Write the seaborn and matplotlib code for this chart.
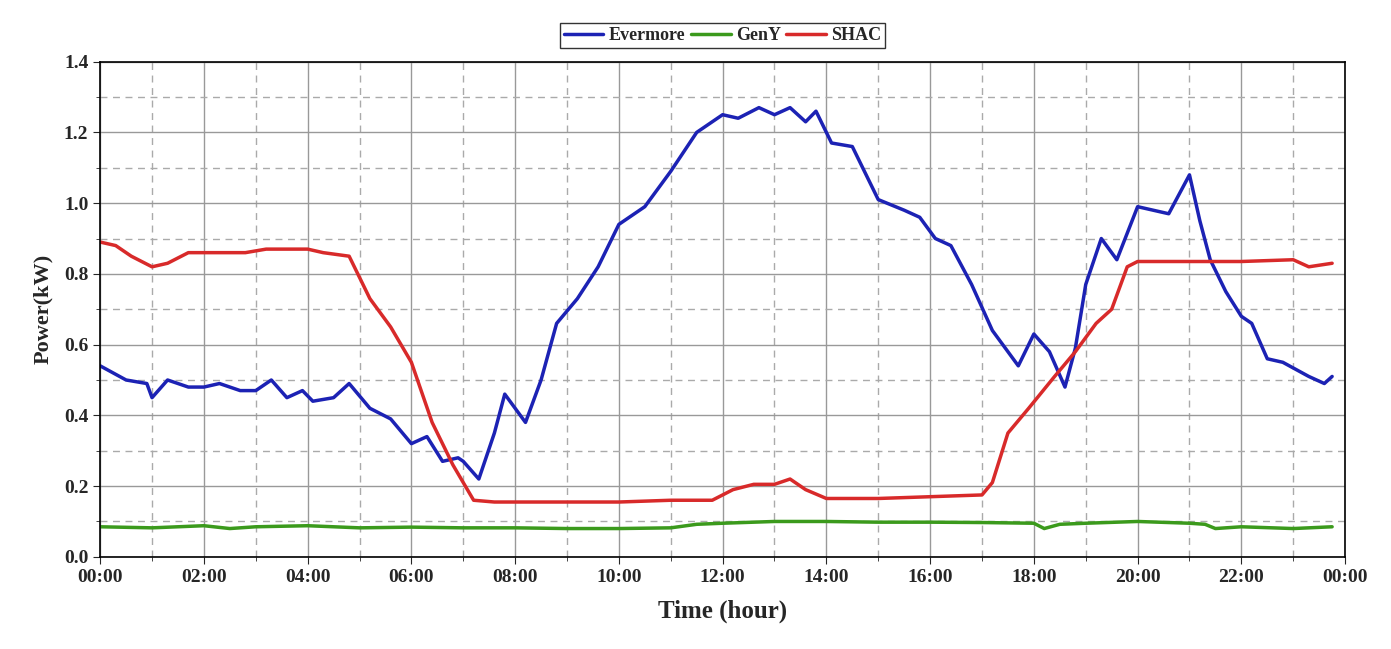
import matplotlib
matplotlib.use("Agg")
import matplotlib.pyplot as plt
import seaborn as sns
import pandas as pd
import numpy as np
from matplotlib.ticker import MultipleLocator

ever_t = [0,0.5,0.9,1.0,1.3,1.7,2.0,2.3,2.7,3.0,3.3,3.6,3.9,4.1,4.5,4.8,5.2,5.6,6.0,6.3,6.6,6.9,7.0,7.3,7.6,7.8,8.0,8.2,8.5,8.8,9.2,9.6,10.0,10.5,11.0,11.5,12.0,12.3,12.7,13.0,13.3,13.6,13.8,14.1,14.5,15.0,15.5,15.8,16.1,16.4,16.8,17.2,17.7,18.0,18.3,18.6,18.8,19.0,19.3,19.6,20.0,20.3,20.6,21.0,21.2,21.4,21.7,22.0,22.2,22.5,22.8,23.3,23.6,23.75]
ever_v = [0.54,0.50,0.49,0.45,0.50,0.48,0.48,0.49,0.47,0.47,0.50,0.45,0.47,0.44,0.45,0.49,0.42,0.39,0.32,0.34,0.27,0.28,0.27,0.22,0.35,0.46,0.42,0.38,0.50,0.66,0.73,0.82,0.94,0.99,1.09,1.20,1.25,1.24,1.27,1.25,1.27,1.23,1.26,1.17,1.16,1.01,0.98,0.96,0.90,0.88,0.77,0.64,0.54,0.63,0.58,0.48,0.59,0.77,0.90,0.84,0.99,0.98,0.97,1.08,0.95,0.84,0.75,0.68,0.66,0.56,0.55,0.51,0.49,0.51]
shac_t = [0,0.3,0.6,1.0,1.3,1.7,2.3,2.8,3.2,4.0,4.3,4.8,5.2,5.6,6.0,6.4,6.8,7.2,7.6,8.0,9.0,10.0,11.0,11.8,12.2,12.6,13.0,13.3,13.6,14.0,15.0,16.0,17.0,17.2,17.5,17.9,18.4,18.8,19.2,19.5,19.8,20.0,21.0,22.0,23.0,23.3,23.75]
shac_v = [0.89,0.88,0.85,0.82,0.83,0.86,0.86,0.86,0.87,0.87,0.86,0.85,0.73,0.65,0.55,0.38,0.26,0.16,0.155,0.155,0.155,0.155,0.16,0.16,0.19,0.205,0.205,0.22,0.19,0.165,0.165,0.17,0.175,0.21,0.35,0.42,0.51,0.58,0.66,0.70,0.82,0.835,0.835,0.835,0.84,0.82,0.83]
geny_t = [0,1.0,2.0,2.5,3.0,4.0,5.0,6.0,7.0,8.0,9.0,10.0,11.0,11.5,12.0,13.0,14.0,15.0,16.0,17.0,18.0,18.2,18.5,19.0,20.0,21.0,21.3,21.5,22.0,23.0,23.75]
geny_v = [0.085,0.082,0.088,0.080,0.085,0.088,0.082,0.084,0.082,0.082,0.080,0.080,0.082,0.092,0.095,0.10,0.10,0.098,0.098,0.097,0.095,0.080,0.092,0.095,0.10,0.095,0.092,0.080,0.085,0.080,0.085]
xlabels = ["00:00","02:00","04:00","06:00","08:00","10:00","12:00","14:00","16:00","18:00","20:00","22:00","00:00"]

df = pd.concat([
    pd.DataFrame({"t": ever_t, "v": ever_v, "s": "Evermore"}),
    pd.DataFrame({"t": geny_t, "v": geny_v, "s": "GenY"}),
    pd.DataFrame({"t": shac_t, "v": shac_v, "s": "SHAC"}),
])

sns.set_style("white")
plt.rcParams['font.family'] = ['Liberation Serif', 'DejaVu Serif']
plt.rcParams['font.weight'] = 'bold'
plt.rcParams['lines.solid_joinstyle'] = 'round'
fig, ax = plt.subplots(figsize=(13.91, 6.49), dpi=100)
fig.subplots_adjust(left=0.072, right=0.967, top=0.905, bottom=0.142)
pal = {"Evermore": "#1c22b4", "GenY": "#3b9a1c", "SHAC": "#d82a2a"}
sns.lineplot(data=df, x="t", y="v", hue="s", palette=pal, linewidth=2.5, ax=ax, legend=True)
ax.set_xlim(0, 24); ax.set_ylim(0, 1.4)
ax.set_xticks(np.arange(0, 25, 2)); ax.set_xticklabels(xlabels)
ax.xaxis.set_minor_locator(MultipleLocator(1))
ax.yaxis.set_major_locator(MultipleLocator(0.2))
ax.yaxis.set_minor_locator(MultipleLocator(0.1))
ax.set_yticklabels([f"{v:.1f}" for v in ax.get_yticks()])
ax.grid(which='major', color='#999999', lw=1.0)
ax.grid(which='minor', color='#aaaaaa', lw=1.0, ls=(0, (5, 4)))
ax.tick_params(which='both', direction='out', length=5, labelsize=14, bottom=True, left=True)
ax.tick_params(which='minor', length=3)
for s in ax.spines.values():
    s.set_color('black'); s.set_linewidth(1.2)
ax.set_xlabel("Time (hour)", fontsize=18, fontweight='bold', labelpad=10)
ax.set_ylabel("Power(kW)", fontsize=16, fontweight='bold', labelpad=8)
h, l = ax.get_legend_handles_labels()
ax.legend(h, l, loc='lower center', bbox_to_anchor=(0.5, 1.01), ncol=3, frameon=True,
          fancybox=False, edgecolor='black', fontsize=13, handlelength=2.2,
          columnspacing=0.3, handletextpad=0.3, borderpad=0.2)
fig.savefig("out.png", dpi=100)
